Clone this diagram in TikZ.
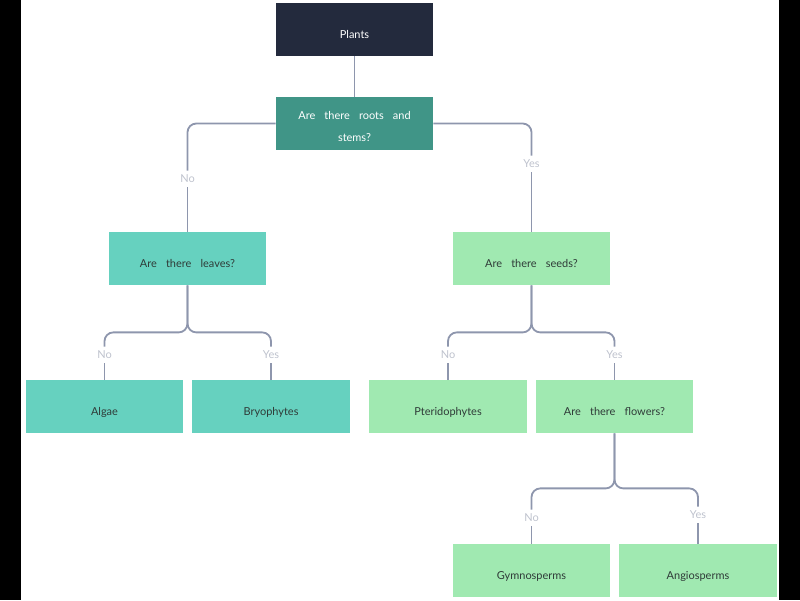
\documentclass[tikz,border=0pt]{standalone}
\usepackage{fontspec}
\setmainfont{Lato}
\usepackage{tikz}
\usetikzlibrary{positioning}
\definecolor{navy}{HTML}{232A3D}
\definecolor{deepteal}{HTML}{409587}
\definecolor{aqua}{HTML}{66D1BF}
\definecolor{mint}{HTML}{A0E9B1}
\definecolor{wire}{HTML}{8E96AD}
\definecolor{ansgray}{HTML}{BEC2CD}
\definecolor{ink}{HTML}{2F3B38}
\protected\def\boxfont{\fontsize{7.8}{16}\selectfont\spaceskip=6.5pt\relax}
\tikzset{
  box/.style = {align=center, inner sep=0pt, minimum width=3.93cm,
    minimum height=1.33cm, text=ink, font=\boxfont,
    text height=12.5pt, text depth=0pt},
  darkbox/.style = {box, fill=navy, text=white},
  tealbox/.style = {box, fill=deepteal, text=white},
  aquabox/.style = {box, fill=aqua},
  greenbox/.style = {box, fill=mint},
  link/.style = {draw=wire, line width=1.3pt, rounded corners=0.22cm},
  ans/.style = {inner sep=3pt, text=ansgray, font=\fontsize{7.8}{9}\selectfont}
}

\begin{document}
\begin{tikzpicture}[x=0.025cm, y=-0.025cm]
\useasboundingbox (0,0) rectangle (800,600);
\fill[black] (0,0) rectangle (21,600);
\fill[black] (779,0) rectangle (800,600);

% boxes
\node [darkbox] (plants) at (354.5,29.5) {Plants};
\node [tealbox, text height=26pt] (roots) at (354.5,123.5) {Are there roots and\\stems?};
\node [aquabox] (leaves) at (187.5,258.5) {Are there leaves?};
\node [greenbox] (seeds) at (531.5,258.5) {Are there seeds?};
\node [aquabox] (algae) at (104.5,406.5) {Algae};
\node [aquabox] (bryo) at (271,406.5) {Bryophytes};
\node [greenbox] (pterido) at (448,406.5) {Pteridophytes};
\node [greenbox] (flowers) at (614.5,406.5) {Are there flowers?};
\node [greenbox] (gymno) at (531.5,570.5) {Gymnosperms};
\node [greenbox] (angio) at (698,570.5) {Angiosperms};

% answers
\node [ans] (no1) at (187.5,179) {No};
\node [ans] (yes1) at (531.5,164) {Yes};
\node [ans] (no2) at (104.5,355) {No};
\node [ans] (yes2) at (271,355) {Yes};
\node [ans] (no3) at (448,355) {No};
\node [ans] (yes3) at (614.5,355) {Yes};
\node [ans] (no4) at (531.5,518) {No};
\node [ans] (yes4) at (698,515) {Yes};

% connectors
\draw [link] (plants) -- (roots);
\draw [link] (roots.west) -| (no1.north);
\draw [link] (no1.south) -- (leaves.north);
\draw [link] (roots.east) -| (yes1.north);
\draw [link] (yes1.south) -- (seeds.north);
\draw [link] (leaves.south) -- ++(0,47) -| (no2.north);
\draw [link] (leaves.south) -- ++(0,47) -| (yes2.north);
\draw [link] (no2.south) -- (algae.north);
\draw [link] (yes2.south) -- (bryo.north);
\draw [link] (seeds.south) -- ++(0,47) -| (no3.north);
\draw [link] (seeds.south) -- ++(0,47) -| (yes3.north);
\draw [link] (no3.south) -- (pterido.north);
\draw [link] (yes3.south) -- (flowers.north);
\draw [link] (flowers.south) -- ++(0,55) -| (no4.north);
\draw [link] (flowers.south) -- ++(0,55) -| (yes4.north);
\draw [link] (no4.south) -- (gymno.north);
\draw [link] (yes4.south) -- (angio.north);
\end{tikzpicture}
\end{document}
